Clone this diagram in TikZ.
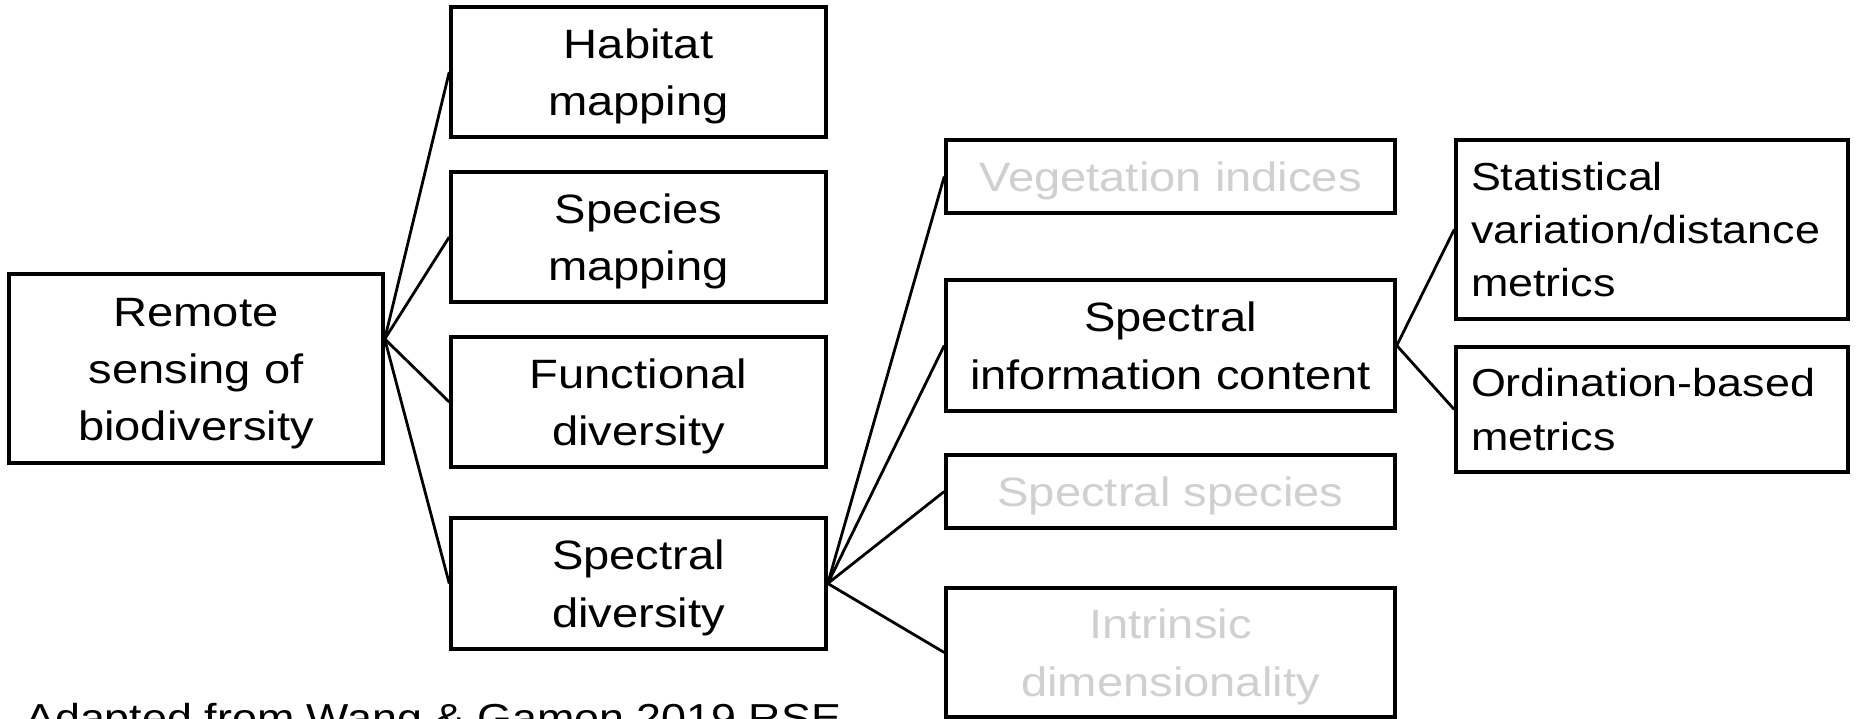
\documentclass[tikz,border=0pt]{standalone}
\usepackage{fontspec}
\setmainfont{Liberation Sans}[FakeStretch=1.15]
\definecolor{faded}{RGB}{208,208,208}
% line struts so that every text line takes the same height
\newcommand{\lnA}{\rule[-13.7pt]{0pt}{57.3pt}}
\newcommand{\lnB}{\rule[-12.8pt]{0pt}{53.3pt}}
\begin{document}
\begin{tikzpicture}[x=1pt,y=-1pt,
  box/.style={draw=black, line width=3.5pt, rectangle, inner sep=0pt, align=center,
    font={\fontsize{41pt}{57.3pt}\selectfont}},
  midbox/.style={box, minimum width=375pt, minimum height=130pt},
  rightbox/.style={box, minimum width=449pt},
  notebox/.style={box, align=left, text width=362pt, inner xsep=15pt, inner ysep=0pt,
    font={\fontsize{39pt}{53.3pt}\selectfont}},
  faint/.style={text=faded},
  wire/.style={draw=black, line width=2.8pt}]
\useasboundingbox (0,0) rectangle (1858,719);
\fill[white] (0,0) rectangle (1858,719);
\clip (0,0) rectangle (1858,719);

% root
\node[box, minimum width=374pt, minimum height=189pt] (remote) at (196,368.5)
  {\lnA Remote\\\lnA sensing of\\\lnA biodiversity};

% first level
\node[midbox] (habitat) at (638.5,72) {\lnA Habitat\\\lnA mapping};
\node[midbox] (species) at (638.5,237) {\lnA Species\\\lnA mapping};
\node[midbox] (functional) at (638.5,402) {\lnA Functional\\\lnA diversity};
\node[midbox, minimum height=131pt] (specdiv) at (638.5,583.5) {\lnA Spectral\\\lnA diversity};

% second level
\node[rightbox, faint, minimum height=73pt] (veg) at (1170.5,176.5) {\lnA Vegetation indices};
\node[rightbox, minimum height=131pt] (specinfo) at (1170.5,345.5) {\lnA Spectral\\\lnA information content};
\node[rightbox, faint, minimum height=73pt] (specspecies) at (1170.5,491.5) {\lnA Spectral species};
\node[rightbox, faint, minimum height=129pt] (intrinsic) at (1170.5,652.5) {\lnA Intrinsic\\\lnA dimensionality};

% third level
\node[notebox, minimum height=179pt] (statistical) at (1652,229.5)
  {\lnB Statistical\\\lnB variation/distance\\\lnB metrics};
\node[notebox, minimum height=125pt] (ordination) at (1652,409.5)
  {\lnB Ordination-based\\\lnB metrics};

% caption
\node[anchor=base west, inner sep=0pt, font={\fontsize{39pt}{53.3pt}\selectfont}] (caption)
  at (25,731) {Adapted from Wang \& Gamon 2019 RSE};

% connectors
\coordinate (rj) at ([yshift=29.5pt]remote.east);
\foreach \t in {habitat,species,functional,specdiv}
  \draw[wire] (rj) -- (\t.west);
\foreach \t in {veg,specinfo,specspecies,intrinsic}
  \draw[wire] (specdiv.east) -- (\t.west);
\foreach \t in {statistical,ordination}
  \draw[wire] (specinfo.east) -- (\t.west);
\end{tikzpicture}
\end{document}
